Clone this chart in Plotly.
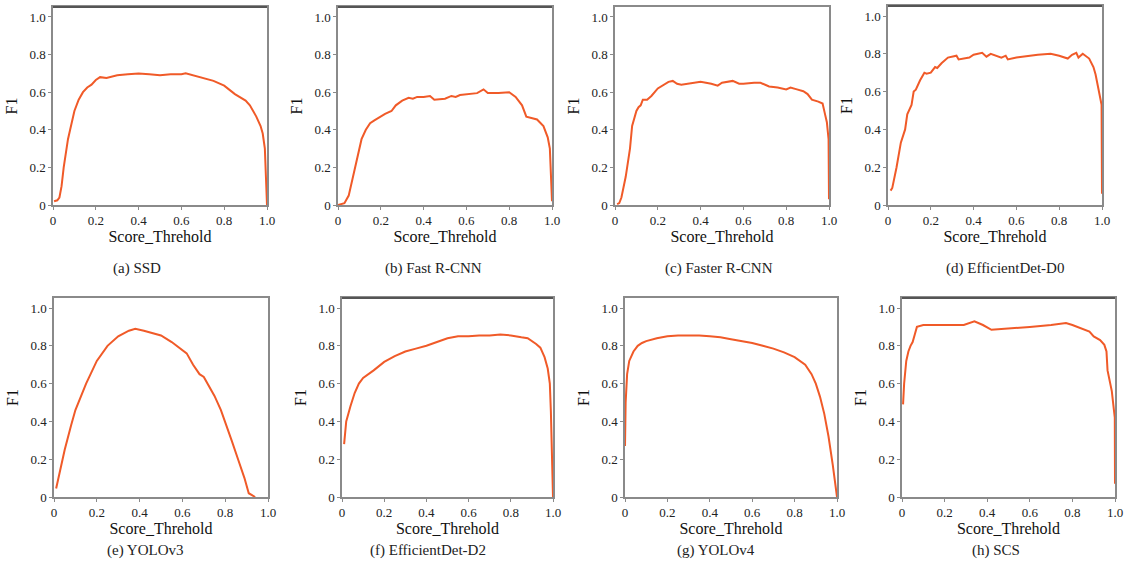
import plotly.graph_objects as go

W, H = 1135, 573

# ---------------- data ----------------
ssd_x = [0.005, 0.02, 0.03, 0.04, 0.05, 0.06, 0.07, 0.08, 0.10, 0.12, 0.14, 0.16, 0.18, 0.20, 0.22, 0.25, 0.30, 0.35, 0.40, 0.45, 0.50, 0.55, 0.60, 0.62, 0.65, 0.70, 0.75, 0.80, 0.85, 0.90, 0.92, 0.95, 0.97, 0.98, 0.99, 0.995, 1.0]
ssd_y = [0.02, 0.025, 0.04, 0.10, 0.20, 0.28, 0.35, 0.40, 0.50, 0.56, 0.60, 0.625, 0.64, 0.665, 0.68, 0.675, 0.69, 0.695, 0.70, 0.695, 0.69, 0.695, 0.695, 0.70, 0.69, 0.675, 0.66, 0.635, 0.59, 0.555, 0.53, 0.47, 0.42, 0.38, 0.30, 0.15, 0.0]

frcnn_x = [0.0, 0.03, 0.05, 0.07, 0.09, 0.11, 0.13, 0.15, 0.17, 0.20, 0.22, 0.25, 0.27, 0.30, 0.33, 0.35, 0.37, 0.40, 0.43, 0.45, 0.50, 0.53, 0.55, 0.57, 0.60, 0.65, 0.68, 0.70, 0.75, 0.80, 0.83, 0.86, 0.88, 0.90, 0.93, 0.96, 0.98, 0.99, 1.0]
frcnn_y = [0.0, 0.01, 0.05, 0.15, 0.25, 0.35, 0.40, 0.435, 0.45, 0.47, 0.485, 0.50, 0.53, 0.555, 0.57, 0.565, 0.575, 0.575, 0.58, 0.56, 0.565, 0.58, 0.575, 0.585, 0.59, 0.595, 0.615, 0.595, 0.595, 0.60, 0.575, 0.53, 0.47, 0.465, 0.455, 0.42, 0.36, 0.30, 0.02]

fasterrcnn_x = [0.01, 0.02, 0.03, 0.05, 0.07, 0.08, 0.10, 0.11, 0.12, 0.13, 0.15, 0.17, 0.20, 0.22, 0.25, 0.27, 0.29, 0.31, 0.35, 0.40, 0.45, 0.48, 0.50, 0.55, 0.58, 0.60, 0.65, 0.68, 0.72, 0.76, 0.80, 0.82, 0.85, 0.88, 0.90, 0.92, 0.95, 0.97, 0.98, 0.99, 0.998, 1.0]
fasterrcnn_y = [0.005, 0.01, 0.04, 0.15, 0.30, 0.42, 0.50, 0.52, 0.53, 0.56, 0.56, 0.58, 0.62, 0.635, 0.655, 0.66, 0.645, 0.64, 0.645, 0.655, 0.645, 0.635, 0.65, 0.66, 0.645, 0.645, 0.65, 0.65, 0.63, 0.625, 0.615, 0.625, 0.615, 0.605, 0.59, 0.56, 0.55, 0.54, 0.49, 0.44, 0.35, 0.03]

effd0_x = [0.012, 0.02, 0.04, 0.06, 0.08, 0.09, 0.11, 0.12, 0.13, 0.15, 0.17, 0.18, 0.20, 0.22, 0.23, 0.25, 0.28, 0.32, 0.33, 0.38, 0.40, 0.44, 0.46, 0.48, 0.53, 0.55, 0.56, 0.60, 0.70, 0.76, 0.80, 0.84, 0.86, 0.88, 0.89, 0.91, 0.94, 0.96, 0.97, 0.98, 0.99, 0.998, 1.0]
effd0_y = [0.076, 0.09, 0.20, 0.33, 0.40, 0.48, 0.53, 0.60, 0.61, 0.66, 0.70, 0.695, 0.70, 0.73, 0.725, 0.75, 0.78, 0.79, 0.77, 0.78, 0.795, 0.805, 0.785, 0.80, 0.78, 0.79, 0.77, 0.78, 0.795, 0.80, 0.79, 0.775, 0.795, 0.805, 0.78, 0.80, 0.775, 0.73, 0.69, 0.63, 0.57, 0.53, 0.06]

yolov3_x = [0.01, 0.05, 0.08, 0.10, 0.15, 0.20, 0.25, 0.30, 0.35, 0.38, 0.42, 0.45, 0.50, 0.55, 0.60, 0.62, 0.65, 0.68, 0.70, 0.75, 0.78, 0.80, 0.83, 0.86, 0.89, 0.91, 0.93, 0.94]
yolov3_y = [0.045, 0.25, 0.38, 0.46, 0.60, 0.72, 0.80, 0.85, 0.88, 0.89, 0.88, 0.87, 0.855, 0.82, 0.78, 0.76, 0.70, 0.65, 0.635, 0.535, 0.46, 0.40, 0.30, 0.20, 0.10, 0.02, 0.005, 0.0]

effd2_x = [0.01, 0.02, 0.04, 0.06, 0.08, 0.10, 0.15, 0.20, 0.25, 0.30, 0.35, 0.40, 0.45, 0.50, 0.55, 0.60, 0.65, 0.70, 0.75, 0.80, 0.85, 0.88, 0.92, 0.94, 0.96, 0.975, 0.985, 0.99, 1.0]
effd2_y = [0.28, 0.40, 0.48, 0.55, 0.60, 0.63, 0.67, 0.715, 0.745, 0.77, 0.785, 0.80, 0.82, 0.84, 0.85, 0.85, 0.855, 0.855, 0.86, 0.855, 0.845, 0.84, 0.81, 0.79, 0.74, 0.68, 0.60, 0.45, 0.0]

yolov4_x = [0.0, 0.003, 0.01, 0.02, 0.04, 0.06, 0.08, 0.10, 0.15, 0.20, 0.25, 0.30, 0.35, 0.40, 0.45, 0.50, 0.55, 0.60, 0.65, 0.70, 0.75, 0.80, 0.85, 0.88, 0.90, 0.92, 0.94, 0.96, 0.98, 0.99, 1.0]
yolov4_y = [0.27, 0.50, 0.65, 0.72, 0.77, 0.80, 0.815, 0.825, 0.84, 0.85, 0.855, 0.855, 0.855, 0.85, 0.845, 0.835, 0.825, 0.815, 0.80, 0.785, 0.765, 0.74, 0.70, 0.65, 0.60, 0.53, 0.44, 0.32, 0.17, 0.08, 0.0]

scs_x = [0.005, 0.01, 0.02, 0.03, 0.04, 0.05, 0.06, 0.07, 0.10, 0.20, 0.29, 0.34, 0.38, 0.42, 0.50, 0.60, 0.70, 0.77, 0.80, 0.85, 0.88, 0.90, 0.93, 0.95, 0.96, 0.965, 0.975, 0.985, 0.995, 0.999, 1.0]
scs_y = [0.49, 0.60, 0.72, 0.77, 0.80, 0.82, 0.86, 0.90, 0.91, 0.91, 0.91, 0.93, 0.91, 0.885, 0.89, 0.90, 0.91, 0.92, 0.91, 0.89, 0.875, 0.85, 0.83, 0.805, 0.77, 0.67, 0.62, 0.56, 0.46, 0.42, 0.07]

captions = ["(a) SSD", "(b) Fast R-CNN", "(c) Faster R-CNN", "(d) EfficientDet-D0",
            "(e) YOLOv3", "(f) EfficientDet-D2", "(g) YOLOv4", "(h) SCS"]
series = [(ssd_x, ssd_y), (frcnn_x, frcnn_y), (fasterrcnn_x, fasterrcnn_y), (effd0_x, effd0_y),
          (yolov3_x, yolov3_y), (effd2_x, effd2_y), (yolov4_x, yolov4_y), (scs_x, scs_y)]

tick_vals = [0, 0.2, 0.4, 0.6, 0.8, 1.0]
tick_text = ["0", "0.2", "0.4", "0.6", "0.8", "1.0"]

# ---------------- layout geometry (pixels) ----------------
boxes = [(53, 267, 7, 205), (338, 552, 7, 205), (615, 829, 7, 205), (888, 1102, 6, 205),
         (54, 268, 298, 497), (342, 553, 298, 497), (625, 837, 298, 497), (902, 1115, 298, 497)]
caption_pos = [(137, 268), (433, 268), (719, 268), (1005, 268),
               (145, 550), (428, 550), (716, 550), (996, 550)]
dark_top = [True, True, False, True, False, True, False, True]

FONT = "Liberation Serif, DejaVu Serif, serif"
LINE = "#F05A28"

fig = go.Figure()
annotations = []
shapes = []
for i, ((xs, ys), (l, r, t, b)) in enumerate(zip(series, boxes)):
    n = "" if i == 0 else str(i + 1)
    fig.add_trace(go.Scatter(x=xs, y=ys, mode="lines", line=dict(color=LINE, width=2),
                             xaxis="x" + n, yaxis="y" + n, showlegend=False,
                             hoverinfo="skip"))
    common = dict(showgrid=False, zeroline=False, showline=True, mirror=True,
                  linecolor="#8a8a8a", linewidth=1.5, ticks="outside", ticklen=3,
                  tickcolor="#8a8a8a", tickfont=dict(family=FONT, size=13, color="#222"),
                  tickvals=tick_vals, ticktext=tick_text, automargin=False)
    fig.layout["xaxis" + n] = dict(common, domain=[l / W, r / W], range=[0, 1.0],
                                   anchor="y" + n,
                                   title=dict(text="Score_Threhold", standoff=2,
                                              font=dict(family=FONT, size=16, color="#111")))
    fig.layout["yaxis" + n] = dict(common, domain=[1 - b / H, 1 - t / H], range=[0, 1.053],
                                   anchor="x" + n,
                                   title=dict(text="F1", standoff=8,
                                              font=dict(family=FONT, size=16, color="#111")))
    if dark_top[i]:
        shapes.append(dict(type="line", xref="paper", yref="paper",
                           x0=l / W, x1=r / W, y0=1 - t / H, y1=1 - t / H,
                           line=dict(color="#555555", width=2)))
    cx, cy = caption_pos[i]
    annotations.append(dict(text=captions[i],
                            x=cx / W, y=1 - cy / H, xref="paper", yref="paper",
                            showarrow=False, xanchor="center", yanchor="middle",
                            font=dict(family=FONT, size=15, color="#222")))

fig.update_layout(width=W, height=H, margin=dict(l=0, r=0, t=0, b=0, autoexpand=False),
                  paper_bgcolor="white", plot_bgcolor="white",
                  annotations=annotations, shapes=shapes)
fig.write_html("out.html", config={"displayModeBar": False},
               post_script="document.body.style.margin='0';document.body.style.overflow='hidden';")
